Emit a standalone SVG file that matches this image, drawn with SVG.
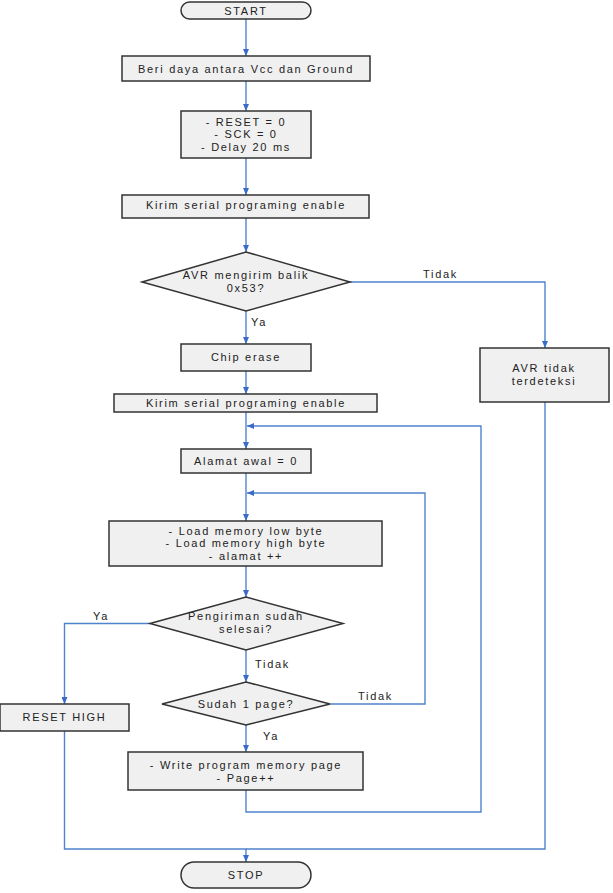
<svg xmlns="http://www.w3.org/2000/svg" width="613" height="893" viewBox="0 0 613 893">
<defs>
<marker id="arr" markerWidth="8" markerHeight="6" refX="7" refY="3" orient="auto" markerUnits="userSpaceOnUse">
<path d="M0,0 L7,3 L0,6 Z" fill="#3a6bc9"/>
</marker>
<style>
.box{fill:#f0f0f0;stroke:#333;stroke-width:1.5}
.t{font-family:"Liberation Sans",Arial,sans-serif;font-size:11px;letter-spacing:1.7px;fill:#222;text-anchor:middle}
.lbl{font-family:"Liberation Sans",Arial,sans-serif;font-size:11px;letter-spacing:1.7px;fill:#222}
.c{fill:none;stroke:#4f84cc;stroke-width:1.4}
</style>
</defs>
<rect width="613" height="893" fill="#fff"/>
<g id="connectors">
<path class="c" d="M246,19 V56" marker-end="url(#arr)"/>
<path class="c" d="M246,81 V111" marker-end="url(#arr)"/>
<path class="c" d="M246,158 V195" marker-end="url(#arr)"/>
<path class="c" d="M246,218 V252" marker-end="url(#arr)"/>
<path class="c" d="M246,311 V344" marker-end="url(#arr)"/>
<path class="c" d="M350,282 H545 V348" marker-end="url(#arr)"/>
<path class="c" d="M246,371 V394" marker-end="url(#arr)"/>
<path class="c" d="M246,412 V449" marker-end="url(#arr)"/>
<path class="c" d="M246,473 V521" marker-end="url(#arr)"/>
<path class="c" d="M246,566 V597" marker-end="url(#arr)"/>
<path class="c" d="M246,650 V682" marker-end="url(#arr)"/>
<path class="c" d="M150,623.5 H64.5 V704" marker-end="url(#arr)"/>
<path class="c" d="M246,725 V752" marker-end="url(#arr)"/>
<path class="c" d="M330,704 H425 V493 H247" marker-end="url(#arr)"/>
<path class="c" d="M246,790 V812 H481 V426 H247" marker-end="url(#arr)"/>
<path class="c" d="M64.5,731 V849 H246 V862" marker-end="url(#arr)"/>
<path class="c" d="M545,402 V849 H246"/>
<text class="lbl" x="423" y="277.5">Tidak</text>
<text class="lbl" x="251" y="325.5">Ya</text>
<text class="lbl" x="93" y="619.5">Ya</text>
<text class="lbl" x="255" y="667.5">Tidak</text>
<text class="lbl" x="358" y="700">Tidak</text>
<text class="lbl" x="263" y="740">Ya</text>
</g>
<g id="start">
<rect class="box" x="181" y="2" width="130" height="17" rx="8.5"/>
<text class="t" x="246" y="14.5">START</text>
</g>
<g id="power">
<rect class="box" x="122" y="56" width="248" height="25"/>
<text class="t" x="246" y="72.5">Beri daya antara Vcc dan Ground</text>
</g>
<g id="reset0">
<rect class="box" x="181" y="111" width="130" height="47"/>
<text class="t" x="246" y="125.5">- RESET = 0</text>
<text class="t" x="246" y="138">- SCK = 0</text>
<text class="t" x="246" y="150.5">- Delay 20 ms</text>
</g>
<g id="enable1">
<rect class="box" x="122" y="195" width="247" height="23"/>
<text class="t" x="246" y="209">Kirim serial programing enable</text>
</g>
<g id="check53">
<polygon class="box" points="142,282 246,252 350,282 246,311"/>
<text class="t" x="246" y="279">AVR mengirim balik</text>
<text class="t" x="246" y="291.5">0x53?</text>
</g>
<g id="notdetected">
<rect class="box" x="480" y="348" width="129" height="54"/>
<text class="t" x="544" y="372">AVR tidak</text>
<text class="t" x="544" y="384.5">terdeteksi</text>
</g>
<g id="erase">
<rect class="box" x="181" y="344" width="130" height="27"/>
<text class="t" x="246" y="360.5">Chip erase</text>
</g>
<g id="enable2">
<rect class="box" x="114" y="394" width="263" height="18"/>
<text class="t" x="246" y="406.5">Kirim serial programing enable</text>
</g>
<g id="addr0">
<rect class="box" x="181" y="449" width="130" height="24"/>
<text class="t" x="246" y="465">Alamat awal = 0</text>
</g>
<g id="load">
<rect class="box" x="109" y="521" width="273" height="45"/>
<text class="t" x="246" y="534.5">- Load memory low byte</text>
<text class="t" x="246" y="547">- Load memory high byte</text>
<text class="t" x="246" y="559.5">- alamat ++</text>
</g>
<g id="done">
<polygon class="box" points="150,623.5 246,597 343,623.5 246,650"/>
<text class="t" x="246" y="620">Pengiriman sudah</text>
<text class="t" x="246" y="632.5">selesai?</text>
</g>
<g id="page">
<polygon class="box" points="162,704 246,682 330,704 246,725"/>
<text class="t" x="246" y="707.5">Sudah 1 page?</text>
</g>
<g id="resethigh">
<rect class="box" x="0" y="704" width="129" height="27"/>
<text class="t" x="64.5" y="721">RESET HIGH</text>
</g>
<g id="write">
<rect class="box" x="128" y="752" width="235" height="38"/>
<text class="t" x="246" y="769">- Write program memory page</text>
<text class="t" x="246" y="781.5">- Page++</text>
</g>
<g id="stop">
<rect class="box" x="181" y="862" width="130" height="26" rx="13"/>
<text class="t" x="246" y="878.5">STOP</text>
</g>
</svg>
